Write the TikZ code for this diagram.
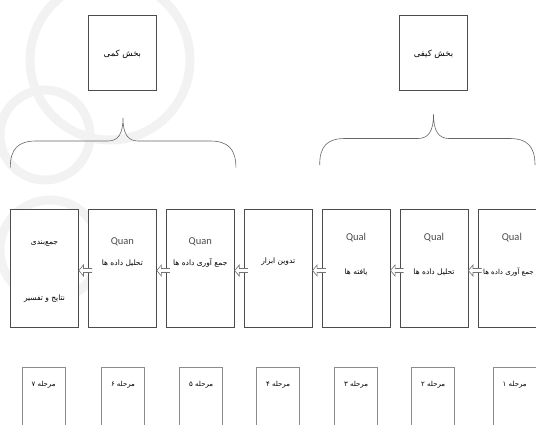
\documentclass[tikz,border=0pt]{standalone}
\usepackage{fontspec}
\TeXXeTstate=1
\newfontfamily\fa[Script=Arabic]{DejaVu Sans}
\newfontfamily\la{Carlito}
\usetikzlibrary{arrows.meta,calc}
\tikzset{
  mainbox/.style={draw=black!70, line width=0.7pt, fill=white, minimum width=68pt, minimum height=118pt, inner sep=0pt},
  topbox/.style={draw=black!70, line width=0.7pt, fill=white, minimum width=68pt, minimum height=75pt, inner sep=0pt},
  stagebox/.style={draw=black!45, line width=0.5pt, fill=white, minimum width=43pt, minimum height=80pt, inner sep=0pt},
  fatxt/.style={font=\fa\fontsize{7.5}{9}\selectfont, inner sep=0pt, text=black},
  toptxt/.style={font=\fa\fontsize{8.5}{10}\selectfont, inner sep=0pt, text=black},
  latxt/.style={font=\la\fontsize{10.5}{12}\selectfont, inner sep=0pt, text=black!70},
  stxt/.style={font=\fa\fontsize{7}{8}\selectfont, inner sep=0pt, text=black},
  blockarr/.style={draw=black!55, fill=white, line width=0.6pt, line join=miter},
  brace/.style={draw=black!60, line width=0.6pt},
  wm/.style={draw=black!5, line width=9pt}
}
% hollow block arrow from the west side of #1 to the east side of #2
\newcommand\blkarr[2]{%
  \draw[blockarr] let \p1=(#1.west), \p2=(#2.east) in
   (\x1+4pt,\y1-0.5pt) -- ({0.5*\x1+0.5*\x2},\y1-0.5pt) -- ({0.5*\x1+0.5*\x2},\y1+3pt)
   -- (\x2,\y1-2.5pt) -- ({0.5*\x1+0.5*\x2},\y1-8pt) -- ({0.5*\x1+0.5*\x2},\y1-4.5pt)
   -- (\x1+4pt,\y1-4.5pt);}
\begin{document}
\begin{tikzpicture}[x=1pt,y=-1pt]
\useasboundingbox (0,0) rectangle (536,424);
\begin{scope}
\clip (0,0) rectangle (536,424);
% faint watermark
\draw[wm] (110,60) circle (80);
\draw[wm] (50,250) circle (50);
\draw[wm] (45,135) circle (45);
% top boxes
\node[topbox] (kami) at (122.4,53) {};
\node[toptxt] (kamit) at (122.4,54) {\beginR بخش کمی\endR};
\node[topbox] (kayfi) at (433.5,53) {};
\node[toptxt] (kayfit) at (433.5,54) {\beginR بخش کیفی\endR};
% braces
\draw[brace] (10.3,167.5) .. controls (10.3,149) and (18,141) .. (36,141) -- (108,141)
  .. controls (118,141) and (123,134) .. (123,118)
  .. controls (123,134) and (128,141) .. (138,141) -- (210,141)
  .. controls (228,141) and (235.9,149) .. (235.9,167.5);
\draw[brace] (319.7,164.8) .. controls (319.7,146.5) and (327,138.5) .. (345,138.5) -- (418,138.5)
  .. controls (428.5,138.5) and (433.5,131) .. (433.5,114.5)
  .. controls (433.5,131) and (438.5,138.5) .. (449,138.5) -- (510,138.5)
  .. controls (527,138.5) and (535,146.5) .. (535,164.8);
% main boxes
\node[mainbox] (b1) at (44.5,268) {};
\node[mainbox] (b2) at (122.4,268) {};
\node[mainbox] (b3) at (200.3,268) {};
\node[mainbox] (b4) at (278.2,268) {};
\node[mainbox] (b5) at (356.1,268) {};
\node[mainbox] (b6) at (434.0,268) {};
\node[mainbox] (b7) at (511.9,268) {};
% flow arrows
\blkarr{b7}{b6}
\blkarr{b6}{b5}
\blkarr{b5}{b4}
\blkarr{b4}{b3}
\blkarr{b3}{b2}
\blkarr{b2}{b1}
% texts
\node[fatxt] (t1a) at (44.5,244) {\beginR جمع‌بندی\endR};
\node[fatxt] (t1b) at (44.5,299) {\beginR نتایج و تفسیر\endR};
\node[latxt] (t2a) at (122.4,242) {Quan};
\node[fatxt] (t2b) at (122.4,263) {\beginR تحلیل داده ها\endR};
\node[latxt] (t3a) at (200.3,242) {Quan};
\node[fatxt] (t3b) at (200.3,263) {\beginR جمع آوری داده ها\endR};
\node[fatxt] (t4) at (278.2,262) {\beginR تدوین ابزار\endR};
\node[latxt] (t5a) at (356.1,238) {Qual};
\node[fatxt] (t5b) at (356.1,272) {\beginR یافته ها\endR};
\node[latxt] (t6a) at (434.0,238) {Qual};
\node[fatxt] (t6b) at (434.0,272) {\beginR تحلیل داده ها\endR};
\node[latxt] (t7a) at (511.9,238) {Qual};
\node[fatxt, font=\fa\fontsize{7}{9}\selectfont] (t7b) at (508.5,272) {\beginR جمع آوری داده ها\endR};
% stage boxes
\node[stagebox] (s7) at (43.6,407) {};
\node[stagebox] (s6) at (123,407) {};
\node[stagebox] (s5) at (201.2,407) {};
\node[stagebox] (s4) at (278.1,407) {};
\node[stagebox] (s3) at (356.1,407) {};
\node[stagebox] (s2) at (433.2,407) {};
\node[stagebox] (s1) at (514.7,407) {};
\node[stxt] (st7) at (43.6,385) {\beginR مرحله ۷\endR};
\node[stxt] (st6) at (123,385) {\beginR مرحله ۶\endR};
\node[stxt] (st5) at (201.2,385) {\beginR مرحله ۵\endR};
\node[stxt] (st4) at (278.1,385) {\beginR مرحله ۴\endR};
\node[stxt] (st3) at (356.1,385) {\beginR مرحله ۳\endR};
\node[stxt] (st2) at (433.2,385) {\beginR مرحله ۲\endR};
\node[stxt] (st1) at (514.7,385) {\beginR مرحله ۱\endR};
\end{scope}
\end{tikzpicture}
\end{document}
